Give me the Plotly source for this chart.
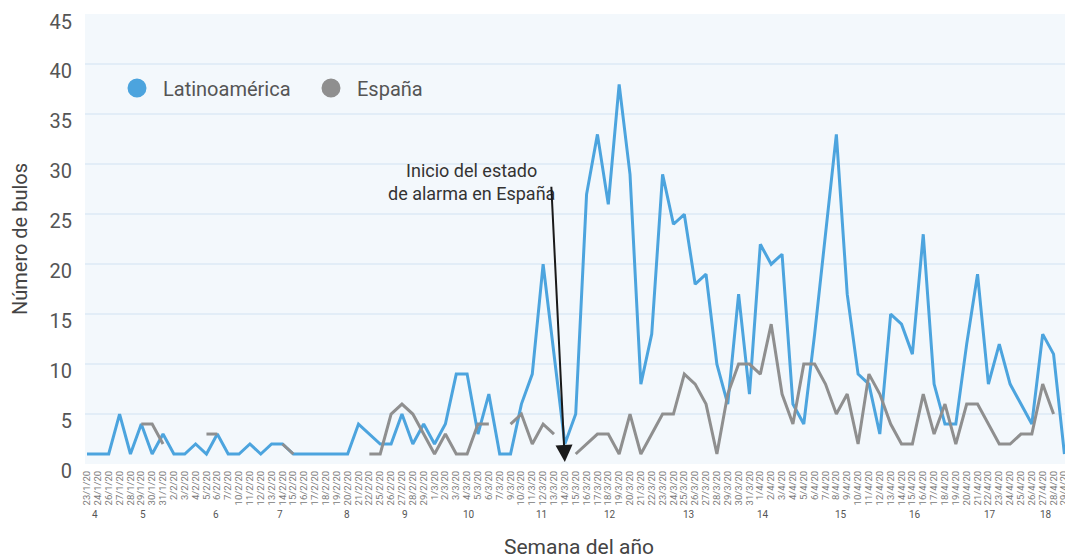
import plotly.graph_objects as go

# ---------------- data ----------------
dates = [
    "23/1/20", "24/1/20", "26/1/20", "27/1/20", "28/1/20", "29/1/20", "30/1/20", "31/1/20",
    "2/2/20", "3/2/20", "4/2/20", "5/2/20", "6/2/20", "7/2/20", "10/2/20", "11/2/20",
    "12/2/20", "13/2/20", "14/2/20", "15/2/20", "16/2/20", "17/2/20", "18/2/20", "19/2/20",
    "20/2/20", "21/2/20", "22/2/20", "25/2/20", "26/2/20", "27/2/20", "28/2/20", "29/2/20",
    "1/3/20", "2/3/20", "3/3/20", "4/3/20", "5/3/20", "6/3/20", "7/3/20", "9/3/20",
    "10/3/20", "11/3/20", "12/3/20", "13/3/20", "14/3/20", "15/3/20", "16/3/20", "17/3/20",
    "18/3/20", "19/3/20", "20/3/20", "21/3/20", "22/3/20", "23/3/20", "24/3/20", "25/3/20",
    "26/3/20", "27/3/20", "28/3/20", "29/3/20", "30/3/20", "31/3/20", "1/4/20", "2/4/20",
    "3/4/20", "4/4/20", "5/4/20", "6/4/20", "7/4/20", "8/4/20", "9/4/20", "10/4/20",
    "11/4/20", "12/4/20", "13/4/20", "14/4/20", "15/4/20", "16/4/20", "17/4/20", "18/4/20",
    "19/4/20", "20/4/20", "21/4/20", "22/4/20", "23/4/20", "24/4/20", "25/4/20", "26/4/20",
    "27/4/20", "28/4/20", "29/4/20",
]

latinoamerica = [
    1, 1, 1, 5, 1, 4, 1, 3,
    1, 1, 2, 1, 3, 1, 1, 2,
    1, 2, 2, 1, 1, 1, 1, 1,
    1, 4, 3, 2, 2, 5, 2, 4,
    2, 4, 9, 9, 3, 7, 1, 1,
    6, 9, 20, 11, 2, 5, 27, 33,
    26, 38, 29, 8, 13, 29, 24, 25,
    18, 19, 10, 6, 17, 7, 22, 20,
    21, 6, 4, 13, 23, 33, 17, 9,
    8, 3, 15, 14, 11, 23, 8, 4,
    4, 12, 19, 8, 12, 8, 6, 4,
    13, 11, 1,
]

espana = [
    None, None, None, None, None, 4, 4, 2,
    None, None, None, 3, 3, None, None, None,
    None, None, 2, 1, None, None, None, None,
    None, None, 1, 1, 5, 6, 5, 3,
    1, 3, 1, 1, 4, 4, None, 4,
    5, 2, 4, 3, None, 1, 2, 3,
    3, 1, 5, 1, 3, 5, 5, 9,
    8, 6, 1, 7, 10, 10, 9, 14,
    7, 4, 10, 10, 8, 5, 7, 2,
    9, 7, 4, 2, 2, 7, 3, 6,
    2, 6, 6, 4, 2, 2, 3, 3,
    8, 5, None,
]

week_labels = ["4", "5", "6", "7", "8", "9", "10", "11", "12", "13", "14", "15", "16", "17", "18"]

y_ticks = [0, 5, 10, 15, 20, 25, 30, 35, 40, 45]

# ---------------- styles / positions ----------------
BLUE = "#4CA4DE"
GRAY = "#8F8F8F"
PLOT_BG = "#F3F8FC"
GRID = "#E2EDF7"
FONT = "Roboto"

week_x = [0.74, 5.18, 11.85, 17.77, 23.9, 29.28, 35.2, 41.87, 48.2, 55.4,
          62.28, 69.4, 76.24, 83.15, 88.3]

fig = go.Figure()

fig.add_trace(go.Scatter(
    x=dates, y=latinoamerica, mode="lines", name="Latinoamérica",
    line=dict(color=BLUE, width=3), showlegend=False, legendgroup="latam",
))
fig.add_trace(go.Scatter(
    x=dates, y=espana, mode="lines", name="España", connectgaps=False,
    line=dict(color=GRAY, width=3), showlegend=False, legendgroup="es",
))
# legend entries (circle symbols)
fig.add_trace(go.Scatter(
    x=[dates[0]], y=[None], mode="markers", name="Latinoamérica", legendgroup="latam",
    marker=dict(color=BLUE, size=16, line=dict(color=BLUE, width=3)), legend="legend",
))
fig.add_trace(go.Scatter(
    x=[dates[0]], y=[None], mode="markers", name="España", legendgroup="es",
    marker=dict(color=GRAY, size=16, line=dict(color=GRAY, width=3)), legend="legend2",
))

annotations = []
for lab, xp in zip(week_labels, week_x):
    annotations.append(dict(
        x=xp, y=-0.113, xref="x", yref="paper", text=lab, showarrow=False,
        font=dict(family=FONT, size=10, color="#555555"), xanchor="center", yanchor="middle",
    ))

# annotation text
annotations.append(dict(
    x=35.4, y=28.2, xref="x", yref="y",
    text="Inicio del estado<br>de alarma en España", showarrow=False,
    font=dict(family=FONT, size=18, color="#333333"), align="center",
    xanchor="center", yanchor="middle",
))
# arrow
annotations.append(dict(
    x=44, y=0.2, xref="x", yref="y", ax=42.75, ay=27.9, axref="x", ayref="y",
    text="", showarrow=True, arrowhead=2, arrowsize=1.7, arrowwidth=2, arrowcolor="#1A1A1A",
))

legend_common = dict(
    orientation="h", yanchor="middle", xanchor="left", bgcolor="rgba(0,0,0,0)",
    font=dict(family=FONT, size=20, color="#555555"), itemwidth=42,
)

fig.update_layout(
    width=1073, height=558,
    margin=dict(l=77, r=8, t=6, b=102),
    paper_bgcolor="white",
    plot_bgcolor=PLOT_BG,
    font=dict(family=FONT, color="#444444"),
    legend=dict(x=(111 - 85) / 988, y=(464 - 88) / 450, **legend_common),
    legend2=dict(x=(305 - 85) / 988, y=(464 - 88) / 450, **legend_common),
    xaxis=dict(
        type="category",
        range=[-0.184, 90.79],
        tickmode="array", tickvals=dates, ticktext=dates,
        tickangle=-90,
        tickfont=dict(family=FONT, size=9.5, color="#7A7A7A"),
        showgrid=False, zeroline=False, showline=False,
        ticks="", ticklabelstandoff=4, automargin=False,
        title=dict(text="Semana del año", font=dict(family=FONT, size=21, color="#444444"), standoff=34),
    ),
    yaxis=dict(
        range=[0, 45.05],
        tickvals=y_ticks,
        tickfont=dict(family=FONT, size=20, color="#555555"),
        showgrid=True, gridcolor=GRID, gridwidth=2,
        zeroline=False, showline=False, ticks="", ticklabelstandoff=12, automargin=False,
        ticklabeloverflow="allow", ticklabelshift=7,
        title=dict(text="Número de bulos", font=dict(family=FONT, size=20, color="#444444"), standoff=18),
    ),
    annotations=annotations,
)

fig.write_html("out.html")
